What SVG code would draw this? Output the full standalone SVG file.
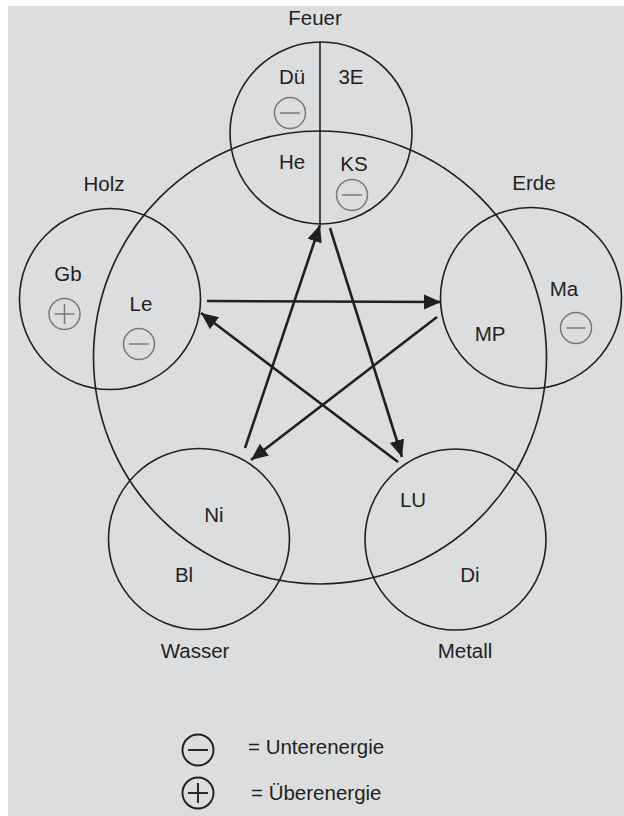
<svg xmlns="http://www.w3.org/2000/svg" width="624" height="816" viewBox="0 0 624 816">
<style>
  .bg { fill: #dcdddf; }
  .ring { fill: none; stroke: #231f20; stroke-width: 1.6; }
  .lbl { font-family: "Liberation Sans", Arial, sans-serif; font-size: 20.5px; fill: #231f20; text-anchor: middle; }
  .lgd { font-family: "Liberation Sans", Arial, sans-serif; font-size: 20.5px; fill: #231f20; }
  .sym { fill: none; stroke: #77787b; stroke-width: 1.5; }
  .symk { fill: none; stroke: #231f20; stroke-width: 1.9; }
  .arr { stroke: #231f20; stroke-width: 2.6; fill: none; marker-end: url(#ah); }
</style>
<defs>
  <marker id="ah" markerUnits="userSpaceOnUse" markerWidth="18" markerHeight="16" refX="17" refY="7.5" orient="auto">
    <path d="M0,0 L17,7.5 L0,15 Z" fill="#231f20"/>
  </marker>
  <g id="minus"><circle r="15.5"/><line x1="-10" y1="0" x2="10" y2="0"/></g>
  <g id="plus"><circle r="15.5"/><line x1="-10" y1="0" x2="10" y2="0"/><line x1="0" y1="-10" x2="0" y2="10"/></g>
</defs>
<rect x="0" y="0" width="624" height="816" fill="#ffffff"/>
<rect class="bg" x="8" y="6" width="616" height="810"/>

<g id="zyklus">
  <circle class="ring" cx="320" cy="357.5" r="226.5"/>
</g>

<g id="feuer">
  <circle class="ring" cx="321" cy="133" r="91"/>
  <line class="ring" x1="320" y1="42" x2="320" y2="224"/>
  <text class="lbl" x="315" y="25">Feuer</text>
  <text class="lbl" x="292" y="84">Dü</text>
  <text class="lbl" x="351" y="84">3E</text>
  <text class="lbl" x="292" y="169">He</text>
  <text class="lbl" x="354" y="171">KS</text>
  <use href="#minus" class="sym" x="290" y="113"/>
  <use href="#minus" class="sym" x="352" y="195"/>
</g>

<g id="holz">
  <circle class="ring" cx="110" cy="299" r="90.5"/>
  <text class="lbl" x="104" y="191">Holz</text>
  <text class="lbl" x="68" y="281">Gb</text>
  <text class="lbl" x="141" y="311">Le</text>
  <use href="#plus" class="sym" x="64.5" y="314"/>
  <use href="#minus" class="sym" x="139" y="344"/>
</g>

<g id="erde">
  <circle class="ring" cx="531" cy="298" r="90.5"/>
  <text class="lbl" x="534" y="190">Erde</text>
  <text class="lbl" x="564" y="296">Ma</text>
  <text class="lbl" x="490" y="341">MP</text>
  <use href="#minus" class="sym" x="576" y="328"/>
</g>

<g id="wasser">
  <circle class="ring" cx="199" cy="539" r="90.5"/>
  <text class="lbl" x="214" y="522">Ni</text>
  <text class="lbl" x="184" y="582">Bl</text>
  <text class="lbl" x="195" y="658">Wasser</text>
</g>

<g id="metall">
  <circle class="ring" cx="455.5" cy="539.5" r="90.5"/>
  <text class="lbl" x="413" y="507">LU</text>
  <text class="lbl" x="470" y="582">Di</text>
  <text class="lbl" x="465" y="658">Metall</text>
</g>

<g id="connectors">
  <line class="arr" x1="245" y1="448" x2="320" y2="225"/>
  <line class="arr" x1="330" y1="228" x2="402" y2="457"/>
  <line class="arr" x1="207" y1="301" x2="441" y2="302"/>
  <line class="arr" x1="437" y1="317" x2="251" y2="460"/>
  <line class="arr" x1="398" y1="462" x2="201" y2="313"/>
</g>

<g id="legende">
  <use href="#minus" class="symk" x="198" y="750"/>
  <text class="lgd" x="248" y="754">= Unterenergie</text>
  <use href="#plus" class="symk" x="198" y="793"/>
  <text class="lgd" x="251" y="800">= Überenergie</text>
</g>
</svg>
